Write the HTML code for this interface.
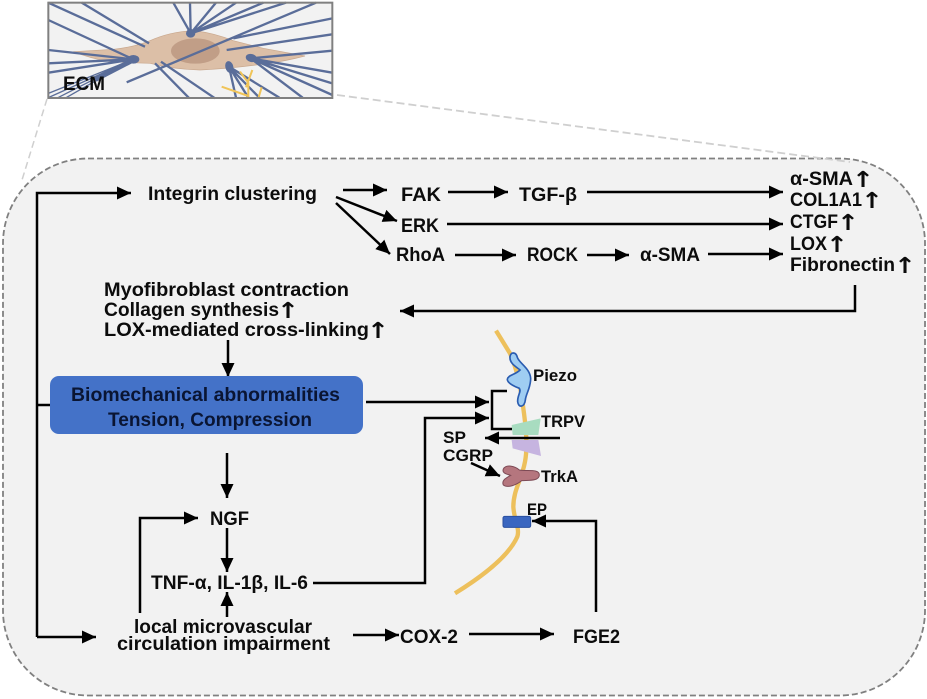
<!DOCTYPE html>
<html>
<head>
<meta charset="utf-8">
<style>
html,body{margin:0;padding:0;background:#fff;width:927px;height:699px;overflow:hidden}
svg{display:block}
text{font-family:"Liberation Sans",sans-serif;font-weight:bold;font-size:19.500px;fill:#0c0c0c}
.s{font-size:17px}
.u{font-family:"DejaVu Sans",sans-serif;font-size:22px}
.a{fill:none;stroke:#000;stroke-width:2.500;marker-end:url(#h)}
.n{fill:none;stroke:#000;stroke-width:2.500}
.f{stroke:#5a6d99;stroke-width:7;fill:none}
.y{stroke:#f0c458;stroke-width:6;fill:none}
</style>
</head>
<body>
<svg width="927" height="699" viewBox="0 0 927 699" xmlns="http://www.w3.org/2000/svg">
<defs>
<marker id="h" markerUnits="userSpaceOnUse" markerWidth="14" markerHeight="14" refX="14" refY="7" orient="auto">
<path d="M0,0.500 L14,7 L0,13.500 Z" fill="#000"/>
</marker>
</defs>

<rect x="3" y="158.500" width="922" height="537" rx="85" ry="85" fill="#f2f2f2" stroke="#808080" stroke-width="1.800" stroke-dasharray="6 3"/>
<line x1="47" y1="99" x2="22" y2="180" stroke="#cfcfcf" stroke-width="1.500" stroke-dasharray="7 4"/>
<line x1="337" y1="95" x2="850" y2="162" stroke="#cfcfcf" stroke-width="1.800" stroke-dasharray="8 4"/>

<g transform="scale(.33333)">
<rect x="145" y="8" width="852" height="286" fill="#f2f2f2"/>
<path d="M220,155 L340,148 Q400,142 450,122 Q510,95 580,92 Q640,98 700,122 L790,145 Q860,158 915,168 Q850,185 790,192 Q700,205 600,210 Q520,208 450,190 Q390,188 330,185 Q270,175 220,155Z" fill="#dcbfa7" stroke="#c9a88e" stroke-width="2"/>
<ellipse cx="586" cy="153" rx="73" ry="38" fill="#c19e87"/>
<path class="f" d="M145,60L400,178M145,150L400,178M145,190L400,178M145,218L400,178M145,8L435,140M245,8L447,130M520,8L572,100M570,8L572,100M648,8L572,100M708,8L572,100M790,8L572,100M858,8L572,100M380,247L948,8M700,115L997,55M680,150L997,103M752,175L997,152M752,175L997,218M752,175L997,250M752,175L997,285M752,175L908,293M465,190L568,295M483,185L645,295M687,200L708,293M687,200L745,293M687,200L778,293M687,200L838,293"/>
<path class="f" style="stroke-width:4" d="M145,280L400,178M145,293L400,178M170,295L400,178M195,295L400,178"/>
<path d="M400,172L280,232L290,245L400,188Z" fill="#5a6d99"/>
<ellipse cx="400" cy="178" rx="18" ry="13" fill="#5a6d99"/>
<ellipse cx="572" cy="100" rx="14" ry="13" fill="#5a6d99"/>
<ellipse cx="754" cy="174" rx="17" ry="12" fill="#5a6d99" transform="rotate(15 754 174)"/>
<ellipse cx="688" cy="201" rx="12" ry="18" fill="#5a6d99" transform="rotate(-15 688 201)"/>
<path class="y" d="M665,260L745,288M720,215L745,248L745,295M757,210L738,262M785,262L775,295M805,293L808,296"/>
<rect x="145" y="8" width="852" height="286" fill="none" stroke="#808080" stroke-width="6"/>
</g>
<text x="63" y="90" textLength="42" lengthAdjust="spacingAndGlyphs">ECM</text>

<!-- left trunk -->
<path class="n" d="M50,405H37"/>
<path class="a" d="M37,637V193H131"/>
<path class="a" d="M37,637H96"/>

<!-- top rows -->
<path class="a" d="M343,190H387"/>
<path class="a" d="M336,197L397,221"/>
<path class="a" d="M336,203L390,254"/>
<path class="a" d="M448,192H508"/>
<path class="a" d="M587,192H783"/>
<path class="a" d="M447,224H783"/>
<path class="a" d="M455,255H516"/>
<path class="a" d="M587,255H629"/>
<path class="a" d="M708,254H783"/>
<path class="a" d="M855,285V311H400"/>
<path class="a" d="M228,340V377"/>

<rect x="50" y="376" width="313" height="58" rx="9" ry="9" fill="#4472c8"/>

<path class="a" d="M366,402H489"/>
<path class="a" d="M313,583H425V418H489"/>
<path class="n" d="M507,391H492V429H512"/>
<path class="a" d="M227,453V498"/>
<path class="a" d="M140,613V518H198"/>
<path class="a" d="M227,528V572"/>
<path class="a" d="M227,617V592"/>
<path class="a" d="M353,635H399"/>
<path class="a" d="M469,634H554"/>

<!-- membrane -->
<g transform="translate(420,320) scale(.33333)">
<path d="M228,32L270,100C300,170 305,230 312,280C320,340 322,390 315,425C305,480 280,510 280,560C282,600 300,625 292,650C270,700 210,755 105,820" fill="none" stroke="#edc05c" stroke-width="13"/>
<path d="M270,110C272,95 288,95 292,112C298,130 330,145 332,175C332,205 318,220 316,240C314,262 295,265 293,245C292,225 305,215 298,205C285,200 262,190 262,178C264,165 285,165 300,150C288,140 268,130 270,110Z" fill="#9fcdf2" stroke="#2a5cb0" stroke-width="5"/>
<path d="M275,315L362,295L355,345L278,345Z" fill="#a8dcc0"/>
<path d="M275,360L355,360L363,408L278,385Z" fill="#c6b4e0"/>
<path d="M250,447C258,432 285,438 298,450C320,455 358,445 358,465C358,485 320,480 305,482C290,495 262,505 250,495C243,480 262,472 272,466C260,462 245,460 250,447Z" fill="#b5767e" stroke="#7d4a55" stroke-width="3"/>
<rect x="249" y="589" width="83" height="33" rx="5" fill="#3a66c0" stroke="#2a50a0" stroke-width="3"/>
</g>
<path class="a" d="M560,438H485"/>
<path class="a" d="M471,463L500,476"/>
<path class="a" d="M596,612V521H532"/>

<!-- labels -->
<text x="148" y="200" textLength="169" lengthAdjust="spacingAndGlyphs">Integrin clustering</text>
<text x="401" y="201" textLength="40" lengthAdjust="spacingAndGlyphs">FAK</text>
<text x="519" y="201" textLength="58" lengthAdjust="spacingAndGlyphs">TGF-β</text>
<text x="401" y="232" textLength="38" lengthAdjust="spacingAndGlyphs">ERK</text>
<text x="396" y="261" textLength="49" lengthAdjust="spacingAndGlyphs">RhoA</text>
<text x="527" y="261" textLength="51" lengthAdjust="spacingAndGlyphs">ROCK</text>
<text x="640" y="261" textLength="60" lengthAdjust="spacingAndGlyphs">α-SMA</text>

<text x="790" y="185" textLength="63" lengthAdjust="spacingAndGlyphs">α-SMA</text>
<text class="u" x="852" y="187" textLength="22" lengthAdjust="spacingAndGlyphs">↑</text>
<text x="790" y="206" textLength="72" lengthAdjust="spacingAndGlyphs">COL1A1</text>
<text class="u" x="861" y="208" textLength="22" lengthAdjust="spacingAndGlyphs">↑</text>
<text x="790" y="228" textLength="48" lengthAdjust="spacingAndGlyphs">CTGF</text>
<text class="u" x="837" y="230" textLength="22" lengthAdjust="spacingAndGlyphs">↑</text>
<text x="790" y="250" textLength="37" lengthAdjust="spacingAndGlyphs">LOX</text>
<text class="u" x="826" y="252" textLength="22" lengthAdjust="spacingAndGlyphs">↑</text>
<text x="790" y="271" textLength="105" lengthAdjust="spacingAndGlyphs">Fibronectin</text>
<text class="u" x="894" y="273" textLength="22" lengthAdjust="spacingAndGlyphs">↑</text>

<text x="104" y="296" textLength="245" lengthAdjust="spacingAndGlyphs">Myofibroblast contraction</text>
<text x="104" y="316" textLength="175" lengthAdjust="spacingAndGlyphs">Collagen synthesis</text>
<text class="u" x="277" y="318" textLength="22" lengthAdjust="spacingAndGlyphs">↑</text>
<text x="104" y="336" textLength="265" lengthAdjust="spacingAndGlyphs">LOX-mediated cross-linking</text>
<text class="u" x="367" y="338" textLength="22" lengthAdjust="spacingAndGlyphs">↑</text>

<text x="71" y="401" textLength="269" lengthAdjust="spacingAndGlyphs" style="fill:#0a1533">Biomechanical abnormalities</text>
<text x="108" y="426" textLength="204" lengthAdjust="spacingAndGlyphs" style="fill:#0a1533">Tension, Compression</text>
<text x="210" y="525" textLength="39" lengthAdjust="spacingAndGlyphs">NGF</text>
<text x="151" y="589" textLength="157" lengthAdjust="spacingAndGlyphs">TNF-α, IL-1β, IL-6</text>
<text x="134" y="633" textLength="178" lengthAdjust="spacingAndGlyphs">local microvascular</text>
<text x="117" y="650" textLength="213" lengthAdjust="spacingAndGlyphs">circulation impairment</text>
<text x="400" y="643" textLength="58" lengthAdjust="spacingAndGlyphs">COX-2</text>
<text x="573" y="643" textLength="47" lengthAdjust="spacingAndGlyphs">FGE2</text>
<text class="s" x="533" y="381" textLength="44" lengthAdjust="spacingAndGlyphs">Piezo</text>
<text class="s" x="541" y="427" textLength="44" lengthAdjust="spacingAndGlyphs">TRPV</text>
<text class="s" x="443" y="443" textLength="23" lengthAdjust="spacingAndGlyphs">SP</text>
<text class="s" x="443" y="461" textLength="50" lengthAdjust="spacingAndGlyphs">CGRP</text>
<text class="s" x="541" y="482" textLength="37" lengthAdjust="spacingAndGlyphs">TrkA</text>
<text class="s" x="527" y="515" textLength="20" lengthAdjust="spacingAndGlyphs">EP</text>
</svg>
</body>
</html>
